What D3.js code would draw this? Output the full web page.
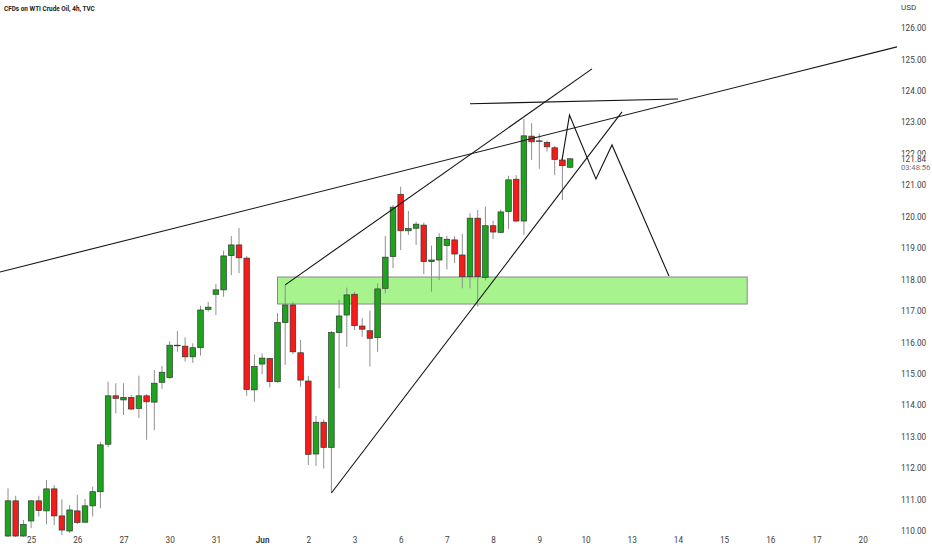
<!DOCTYPE html>
<html>
<head>
<meta charset="utf-8">
<script src="https://cdn.jsdelivr.net/npm/d3@7/dist/d3.min.js"></script>
<style>
html,body{margin:0;padding:0;background:#fff;}
svg{display:block;}
</style>
</head>
<body>
<svg id="chart" width="932" height="550"></svg>
<script>
// ---- DATA (4h candles, index 0 = first visible candle) ----
const opens  = [109.84,110.96,109.84,110.32,110.96,110.64,111.34,110.48,110.00,110.64,110.28,110.80,111.25,112.76,114.30,114.17,114.25,113.90,114.30,114.10,114.73,114.88,115.91,115.88,115.54,115.83,117.05,117.53,117.67,118.76,119.10,118.68,114.49,115.31,115.49,114.75,116.63,117.19,115.67,114.77,112.45,113.46,112.66,116.31,116.87,117.53,116.52,116.37,116.15,117.72,118.73,120.71,119.55,119.63,119.73,118.57,118.62,119.08,119.26,118.78,118.09,119.95,118.07,119.71,119.50,120.16,121.19,119.86,122.56,122.41,122.36,122.19,121.80,121.57];
const highs  = [111.36,111.12,110.35,110.99,111.12,111.62,111.46,111.01,110.83,111.15,111.02,111.41,112.84,114.75,114.70,114.70,114.33,114.94,114.35,115.12,115.25,116.04,116.36,116.16,115.97,117.16,117.29,117.86,118.92,119.38,119.64,118.75,115.62,115.65,115.51,116.93,117.83,117.29,116.08,114.93,113.66,113.55,116.36,117.35,117.74,117.61,116.77,117.01,117.88,119.38,120.37,120.95,120.18,119.84,119.81,119.08,119.47,119.39,119.38,119.45,120.11,120.21,120.32,119.87,120.23,121.30,121.32,123.11,122.97,122.65,122.42,122.25,121.96,121.86];
const lows   = [109.75,109.78,109.78,110.09,110.46,110.21,110.19,109.87,109.94,110.22,110.25,110.46,110.72,112.67,113.74,113.69,113.85,113.59,112.90,113.21,114.52,114.84,115.70,115.39,115.35,115.58,116.98,116.87,117.45,118.14,118.20,114.30,114.11,114.99,114.57,114.72,115.28,115.63,114.59,112.10,112.07,111.99,111.21,114.54,115.86,116.39,116.18,115.23,115.70,117.56,118.36,118.94,119.42,119.10,118.17,117.61,117.98,118.32,118.52,117.72,117.72,117.14,117.97,119.29,119.47,119.61,119.82,119.42,121.80,121.52,122.07,121.32,120.53,121.54];
const closes = [110.96,109.84,110.21,110.96,110.65,111.34,110.48,110.03,110.67,110.27,110.80,111.25,112.74,114.30,114.22,114.25,113.88,114.30,114.11,114.70,115.05,115.91,115.91,115.54,115.83,117.03,117.12,117.67,118.75,119.10,118.69,114.50,115.23,115.50,114.75,116.63,117.19,115.70,114.80,112.44,113.46,112.66,116.31,116.84,117.51,116.53,116.42,116.13,117.70,118.71,120.30,119.55,119.62,119.76,118.57,118.62,119.34,119.28,118.81,118.09,119.95,118.09,119.71,119.51,120.15,121.17,119.86,122.57,122.38,122.41,122.22,121.82,121.62,121.84];

// time axis: label and the candle index at which that day starts
const dayLabels = ["25","26","27","30","31","Jun","2","3","6","7","8","9","10","13","14","15","16","17","20"];
const dayIndex  = [3,9,15,21,27,33,39,45,51,57,63,69,75,81,87,93,99,105,111];

// price axis ticks
const priceTicks = [110,111,112,113,114,115,116,117,118,119,120,121,122,123,124,125,126];
const lastPrice = 121.84;
const countdown = "03:48:56";
const title = "CFDs on WTI Crude Oil, 4h, TVC";
const currency = "USD";

// drawings in (candle index, price)
const longTrend   = [[-1.04,118.24],[115.45,125.40]];
const wedgeUpper  = [[36,117.83],[75.84,124.70]];
const wedgeLower  = [[42,111.21],[79.74,123.33]];
const topLine     = [[60,123.59],[87.01,123.74]];
const projection  = [[71.95,121.80],[72.92,123.23],[76.36,121.20],[78.44,122.28],[85.84,118.11]];
const zone        = {i0:35, i1:96, top:118.08, bottom:117.22};

// ---- LAYOUT ----
const svg = d3.select("#chart");
const W = 932, H = 550;
const plotRight = 897, plotBottom = 537;

const x = d3.scaleLinear().domain([0, 111]).range([8, 8 + 111*7.7]);
const y = d3.scaleLinear().domain([110, 126]).range([531, 28]);

svg.append("rect").attr("width", W).attr("height", H).attr("fill", "#ffffff");

svg.append("defs").append("clipPath").attr("id","plotclip")
  .append("rect").attr("x",0).attr("y",0).attr("width",plotRight).attr("height",plotBottom);

const plot = svg.append("g").attr("clip-path","url(#plotclip)");

// zone rectangle
plot.append("rect")
  .attr("x", x(zone.i0)).attr("y", y(zone.top))
  .attr("width", x(zone.i1) - x(zone.i0))
  .attr("height", y(zone.bottom) - y(zone.top))
  .attr("fill", "#a7f38e").attr("stroke", "#8a8a8a").attr("stroke-width", 1);

// candles
const candles = opens.map((o,i)=>({i, o, h:highs[i], l:lows[i], c:closes[i]}));
const bw = 5.6;
const cg = plot.append("g");
cg.selectAll("line.wick").data(candles).join("line")
  .attr("class","wick")
  .attr("x1", d=>x(d.i)).attr("x2", d=>x(d.i))
  .attr("y1", d=>y(d.h)).attr("y2", d=>y(d.l))
  .attr("stroke", "#8f8f8f").attr("stroke-width", 1);
cg.selectAll("rect.body").data(candles).join("rect")
  .attr("class","body")
  .attr("x", d=>x(d.i) - bw/2)
  .attr("width", bw)
  .attr("y", d=>y(Math.max(d.o,d.c)))
  .attr("height", d=>Math.max(0.6, Math.abs(y(d.o)-y(d.c))))
  .attr("fill", d=> d.c >= d.o ? "#1fa31f" : "#f51b1b")
  .attr("stroke", "#2f3a2f").attr("stroke-width", 0.7);

// drawings
const line = d3.line().x(d=>x(d[0])).y(d=>y(d[1]));
[longTrend, wedgeUpper, wedgeLower, topLine, projection].forEach(pts=>{
  plot.append("path").attr("d", line(pts))
    .attr("fill","none").attr("stroke","#141414").attr("stroke-width",1.1)
    .attr("stroke-linejoin","miter");
});

// price axis
const fontFam = "Roboto, 'Liberation Sans', Arial, sans-serif";
const yAxis = d3.axisRight(y).tickValues(priceTicks).tickSize(0).tickPadding(0)
  .tickFormat(d3.format(".2f"));
const ya = svg.append("g").attr("transform", `translate(901,0)`).call(yAxis);
ya.select(".domain").remove();
ya.selectAll("text").attr("font-family", fontFam).attr("font-size", 8.2)
  .attr("fill", "#404040").attr("dy", "0.32em");

// last price label (covers the lower half of the 122.00 tick, as in the source)
svg.append("rect").attr("x", 898).attr("y", y(lastPrice) - 4.2).attr("width", 34).attr("height", 18).attr("fill", "#ffffff");
svg.append("text").attr("x", 901).attr("y", y(lastPrice) + 0.5).attr("dy","0.32em")
  .attr("font-family", fontFam).attr("font-size", 8.2).attr("fill", "#404040").text(d3.format(".2f")(lastPrice));
svg.append("text").attr("x", 901).attr("y", y(lastPrice) + 8.8).attr("dy","0.32em")
  .attr("font-family", fontFam).attr("font-size", 7.6).attr("fill", "#707070").text(countdown);

svg.append("text").attr("x", 901).attr("y", 10).attr("font-family", fontFam)
  .attr("font-size", 8).attr("fill", "#404040").text(currency);

// time axis
const xAxis = d3.axisBottom(x).tickValues(dayIndex).tickSize(0).tickPadding(0)
  .tickFormat((d,i)=>dayLabels[i]);
const xa = svg.append("g").attr("transform", `translate(0,537)`).call(xAxis);
xa.select(".domain").remove();
xa.selectAll("text").attr("font-family", fontFam).attr("font-size", 8.2)
  .attr("fill", "#404040")
  .attr("font-weight", (d,i)=> dayLabels[i]==="Jun" ? 700 : 400);

// title
svg.append("text").attr("x", 4).attr("y", 11).attr("font-family", fontFam)
  .attr("font-size", 6.4).attr("font-weight", 700).attr("fill", "#222").text(title);
</script>
</body>
</html>
